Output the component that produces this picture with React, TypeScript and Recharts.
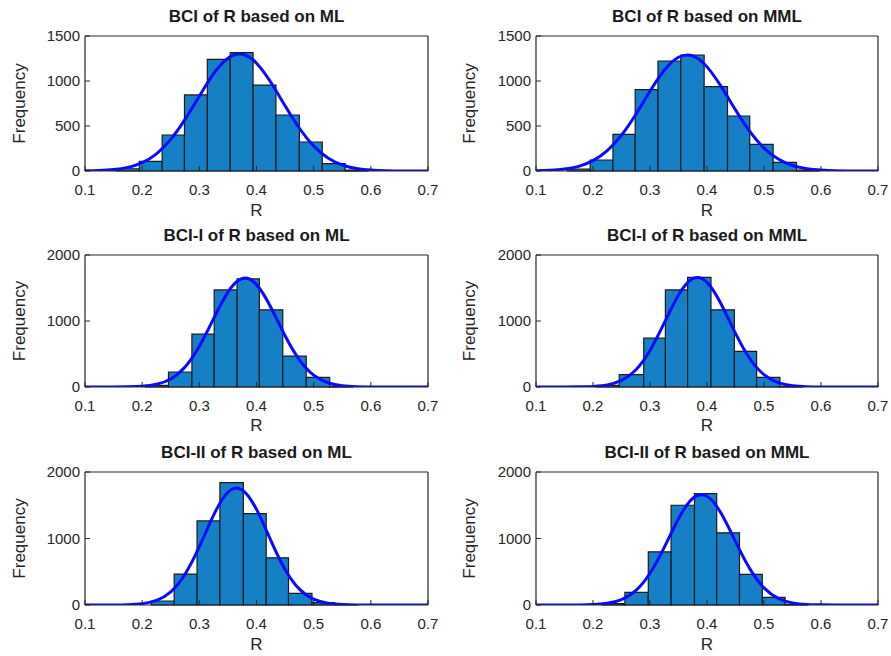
import React from 'react';
import {
  ComposedChart,
  Line,
  XAxis,
  YAxis,
  ReferenceArea
} from 'recharts';

// x positions of the fitted normal curves
const curveX = [0.1, 0.125, 0.15, 0.175, 0.2, 0.225, 0.25, 0.275, 0.3, 0.325, 0.35, 0.375, 0.4,
  0.425, 0.45, 0.475, 0.5, 0.525, 0.55, 0.575, 0.6, 0.625, 0.65, 0.675, 0.7];

const xTicks = [0.1, 0.2, 0.3, 0.4, 0.5, 0.6, 0.7];
const yTicks1500 = [0, 500, 1000, 1500];
const yTicks2000 = [0, 1000, 2000];

// BCI of R based on ML
const bciMlEdges = [0.155, 0.195, 0.235, 0.274, 0.314, 0.354, 0.394, 0.434, 0.475, 0.515, 0.555, 0.595];
const bciMlCounts = [25, 107, 400, 845, 1240, 1315, 955, 622, 322, 81, 10];
const bciMlCurve = [2, 5, 16, 40, 93, 191, 351, 573, 831, 1081, 1253, 1297, 1198, 986, 725, 475, 278, 145, 67, 28, 10, 3, 1, 0, 0];

// BCI of R based on MML
const bciMmlEdges = [0.155, 0.195, 0.235, 0.274, 0.314, 0.354, 0.395, 0.436, 0.475, 0.516, 0.557, 0.597];
const bciMmlCounts = [20, 122, 407, 905, 1222, 1289, 937, 611, 296, 96, 10];
const bciMmlCurve = [3, 8, 21, 52, 115, 226, 398, 628, 886, 1119, 1264, 1279, 1157, 937, 679, 440, 255, 133, 61, 26, 10, 3, 1, 0, 0];

// BCI-I of R based on ML
const bci1MlEdges = [0.206, 0.246, 0.287, 0.326, 0.366, 0.405, 0.446, 0.487, 0.528, 0.568];
const bci1MlCounts = [25, 227, 801, 1471, 1637, 1169, 468, 146, 10];
const bci1MlCurve = [0, 0, 1, 3, 11, 41, 122, 302, 616, 1036, 1437, 1644, 1551, 1209, 776, 412, 180, 65, 19, 5, 1, 0, 0, 0, 0];

// BCI-I of R based on MML
const bci1MmlEdges = [0.206, 0.246, 0.289, 0.327, 0.366, 0.407, 0.448, 0.487, 0.528, 0.568];
const bci1MmlCounts = [25, 186, 740, 1471, 1662, 1169, 539, 146, 10];
const bci1MmlCurve = [0, 0, 0, 2, 8, 31, 99, 258, 553, 971, 1395, 1643, 1585, 1253, 812, 432, 187, 66, 20, 5, 1, 0, 0, 0, 0];

// BCI-II of R based on ML
const bci2MlEdges = [0.216, 0.256, 0.296, 0.336, 0.377, 0.417, 0.456, 0.497, 0.537, 0.577];
const bci2MlCounts = [60, 465, 1265, 1840, 1375, 710, 175, 35, 5];
const bci2MlCurve = [0, 0, 1, 5, 20, 69, 198, 462, 876, 1351, 1695, 1731, 1438, 971, 533, 238, 87, 26, 6, 1, 0, 0, 0, 0, 0];

// BCI-II of R based on MML
const bci2MmlEdges = [0.216, 0.256, 0.297, 0.337, 0.378, 0.417, 0.457, 0.497, 0.537, 0.577];
const bci2MmlCounts = [20, 190, 800, 1500, 1675, 1085, 460, 115, 10];
const bci2MmlCurve = [0, 0, 0, 1, 6, 25, 81, 216, 477, 867, 1298, 1604, 1635, 1375, 954, 547, 258, 101, 32, 8, 2, 0, 0, 0, 0];

const FONT = '"Liberation Sans", Arial, sans-serif';
const TEXT = '#262626';
const BAR_FILL = '#1580c6';
const CURVE = '#0a0aff';

type PanelProps = {
  title: string;
  left: number;
  top: number;
  width: number;
  height: number;
  plotLeft: number;
  plotRight: number;
  plotTop: number;
  plotBottom: number;
  edges: number[];
  counts: number[];
  curve: number[];
  yTicks: number[];
  freqOffset: number;
  rOffset: number;
};

function Panel(p: PanelProps) {
  const curveData = curveX.map((x, i) => ({ x, y: p.curve[i] }));
  const yMax = p.yTicks[p.yTicks.length - 1];
  const leftW = p.plotLeft - p.left;
  const rightW = p.left + p.width - p.plotRight;
  const topH = p.plotTop - p.top;
  const bottomH = p.top + p.height - p.plotBottom;
  const tickStyle = { fill: TEXT, fontSize: 15, fontFamily: FONT };

  return (
    <>
      <div style={{
        position: 'absolute', left: p.plotLeft, width: p.plotRight - p.plotLeft, top: p.plotTop - 29,
        textAlign: 'center', fontFamily: FONT, fontWeight: 'bold', fontSize: 17, lineHeight: '20px', color: '#1a1a1a'
      }}>
        {p.title}
      </div>
      <div style={{ position: 'absolute', left: p.left, top: p.top }}>
        <ComposedChart width={p.width} height={p.height} margin={{ top: 0, right: 0, bottom: 0, left: 0 }}>
          <XAxis
            dataKey="x" type="number" domain={[0.1, 0.7]} ticks={xTicks} allowDataOverflow
            height={bottomH} tickSize={-5} tickMargin={18} tick={tickStyle}
            tickFormatter={(v: number) => String(v)}
            axisLine={{ stroke: TEXT, strokeWidth: 1.2 }} tickLine={{ stroke: TEXT }}
            label={{ value: 'R', position: 'insideBottom', offset: p.rOffset, fill: TEXT, fontSize: 17, fontFamily: FONT }}
          />
          <XAxis
            xAxisId="top" orientation="top" type="number" domain={[0.1, 0.7]} ticks={xTicks} allowDataOverflow
            height={topH} tickSize={-5} tick={false}
            axisLine={{ stroke: TEXT, strokeWidth: 1.2 }} tickLine={{ stroke: TEXT }}
          />
          <YAxis
            type="number" domain={[0, yMax]} ticks={p.yTicks} allowDataOverflow
            width={leftW} tickSize={-5} tickMargin={10} tick={tickStyle}
            axisLine={{ stroke: TEXT, strokeWidth: 1.2 }} tickLine={{ stroke: TEXT }}
            label={{
              value: 'Frequency', angle: -90, position: 'insideLeft', offset: p.freqOffset,
              style: { textAnchor: 'middle' }, fill: TEXT, fontSize: 17, fontFamily: FONT
            }}
          />
          <YAxis
            yAxisId="right" orientation="right" type="number" domain={[0, yMax]} ticks={p.yTicks} allowDataOverflow
            width={rightW} tickSize={-5} tick={false}
            axisLine={{ stroke: TEXT, strokeWidth: 1.2 }} tickLine={{ stroke: TEXT }}
          />
          {p.counts.map((c, i) => (
            <ReferenceArea
              key={i}
              x1={p.edges[i]} x2={p.edges[i + 1]} y1={0} y2={c}
              fill={BAR_FILL} fillOpacity={1} stroke="#1a1a1a" strokeWidth={1.2}
            />
          ))}
          <Line
            data={curveData} dataKey="y" type="natural" stroke={CURVE} strokeWidth={3}
            dot={false} activeDot={false} isAnimationActive={false}
          />
        </ComposedChart>
      </div>
    </>
  );
}

export default function App() {
  const L = { left: 0, width: 445, plotLeft: 85, plotRight: 428, freqOffset: 19 };
  const R = { left: 445, width: 446, plotLeft: 536, plotRight: 878, freqOffset: 24 };
  const row1 = { top: 0, height: 224, plotTop: 36, plotBottom: 171, rOffset: 8, yTicks: yTicks1500 };
  const row2 = { top: 218, height: 224, plotTop: 255, plotBottom: 387, rOffset: 11, yTicks: yTicks2000 };
  const row3 = { top: 436, height: 220, plotTop: 472, plotBottom: 605, rOffset: 6, yTicks: yTicks2000 };

  return (
    <div style={{ position: 'absolute', left: 0, top: 0, width: 891, height: 656, background: '#fff' }}>
      <Panel title="BCI of R based on ML" {...L} {...row1} edges={bciMlEdges} counts={bciMlCounts} curve={bciMlCurve} />
      <Panel title="BCI of R based on MML" {...R} {...row1} edges={bciMmlEdges} counts={bciMmlCounts} curve={bciMmlCurve} />
      <Panel title="BCI-I of R based on ML" {...L} {...row2} edges={bci1MlEdges} counts={bci1MlCounts} curve={bci1MlCurve} />
      <Panel title="BCI-I of R based on MML" {...R} {...row2} edges={bci1MmlEdges} counts={bci1MmlCounts} curve={bci1MmlCurve} />
      <Panel title="BCI-II of R based on ML" {...L} {...row3} edges={bci2MlEdges} counts={bci2MlCounts} curve={bci2MlCurve} />
      <Panel title="BCI-II of R based on MML" {...R} {...row3} edges={bci2MmlEdges} counts={bci2MmlCounts} curve={bci2MmlCurve} />
    </div>
  );
}
